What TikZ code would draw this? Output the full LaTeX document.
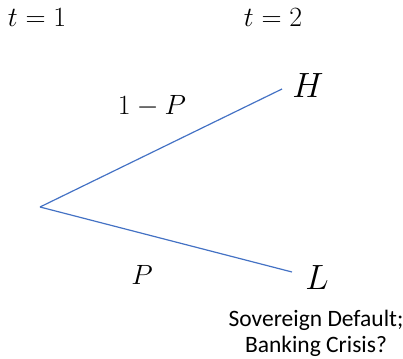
\documentclass[tikz,border=0pt]{standalone}
\usepackage{graphicx}
\usepackage{fontspec}
\newfontfamily\calibri{Carlito}
\newcommand{\lblmath}[1]{\scalebox{1.12}{\fontsize{24.88}{28}\selectfont$#1$}}
\newcommand{\bigmath}[1]{\scalebox{1.41}{\fontsize{24.88}{28}\selectfont$#1$}}
\begin{document}
\begin{tikzpicture}[x=1pt,y=-1pt,
  branch/.style={draw={rgb,255:red,68;green,114;blue,196}, line width=1.2pt},
  lbl/.style={inner sep=0pt},
  note/.style={inner sep=0pt, align=center, font=\calibri\fontsize{23.5}{26}\selectfont}]
\useasboundingbox (0,0) rectangle (403,358);
\coordinate (root) at (40,207);
\coordinate (hend) at (282,89);
\coordinate (lend) at (292,272);
\draw[branch] (root) -- (hend);
\draw[branch] (root) -- (lend);
\node[lbl] (t1) at (37,18) {\lblmath{t=1}};
\node[lbl] (t2) at (273,18) {\lblmath{t=2}};
\node[lbl] (H) at (308,86) {\bigmath{H}};
\node[lbl] (L) at (317,278) {\bigmath{L}};
\node[lbl] (oneminusp) at (152,106) {\lblmath{1-P}};
\node[lbl] (p) at (142,275) {\lblmath{P}};
\node[note] (crisis) at (316,333) {Sovereign Default;\\Banking Crisis?};
\end{tikzpicture}
\end{document}
